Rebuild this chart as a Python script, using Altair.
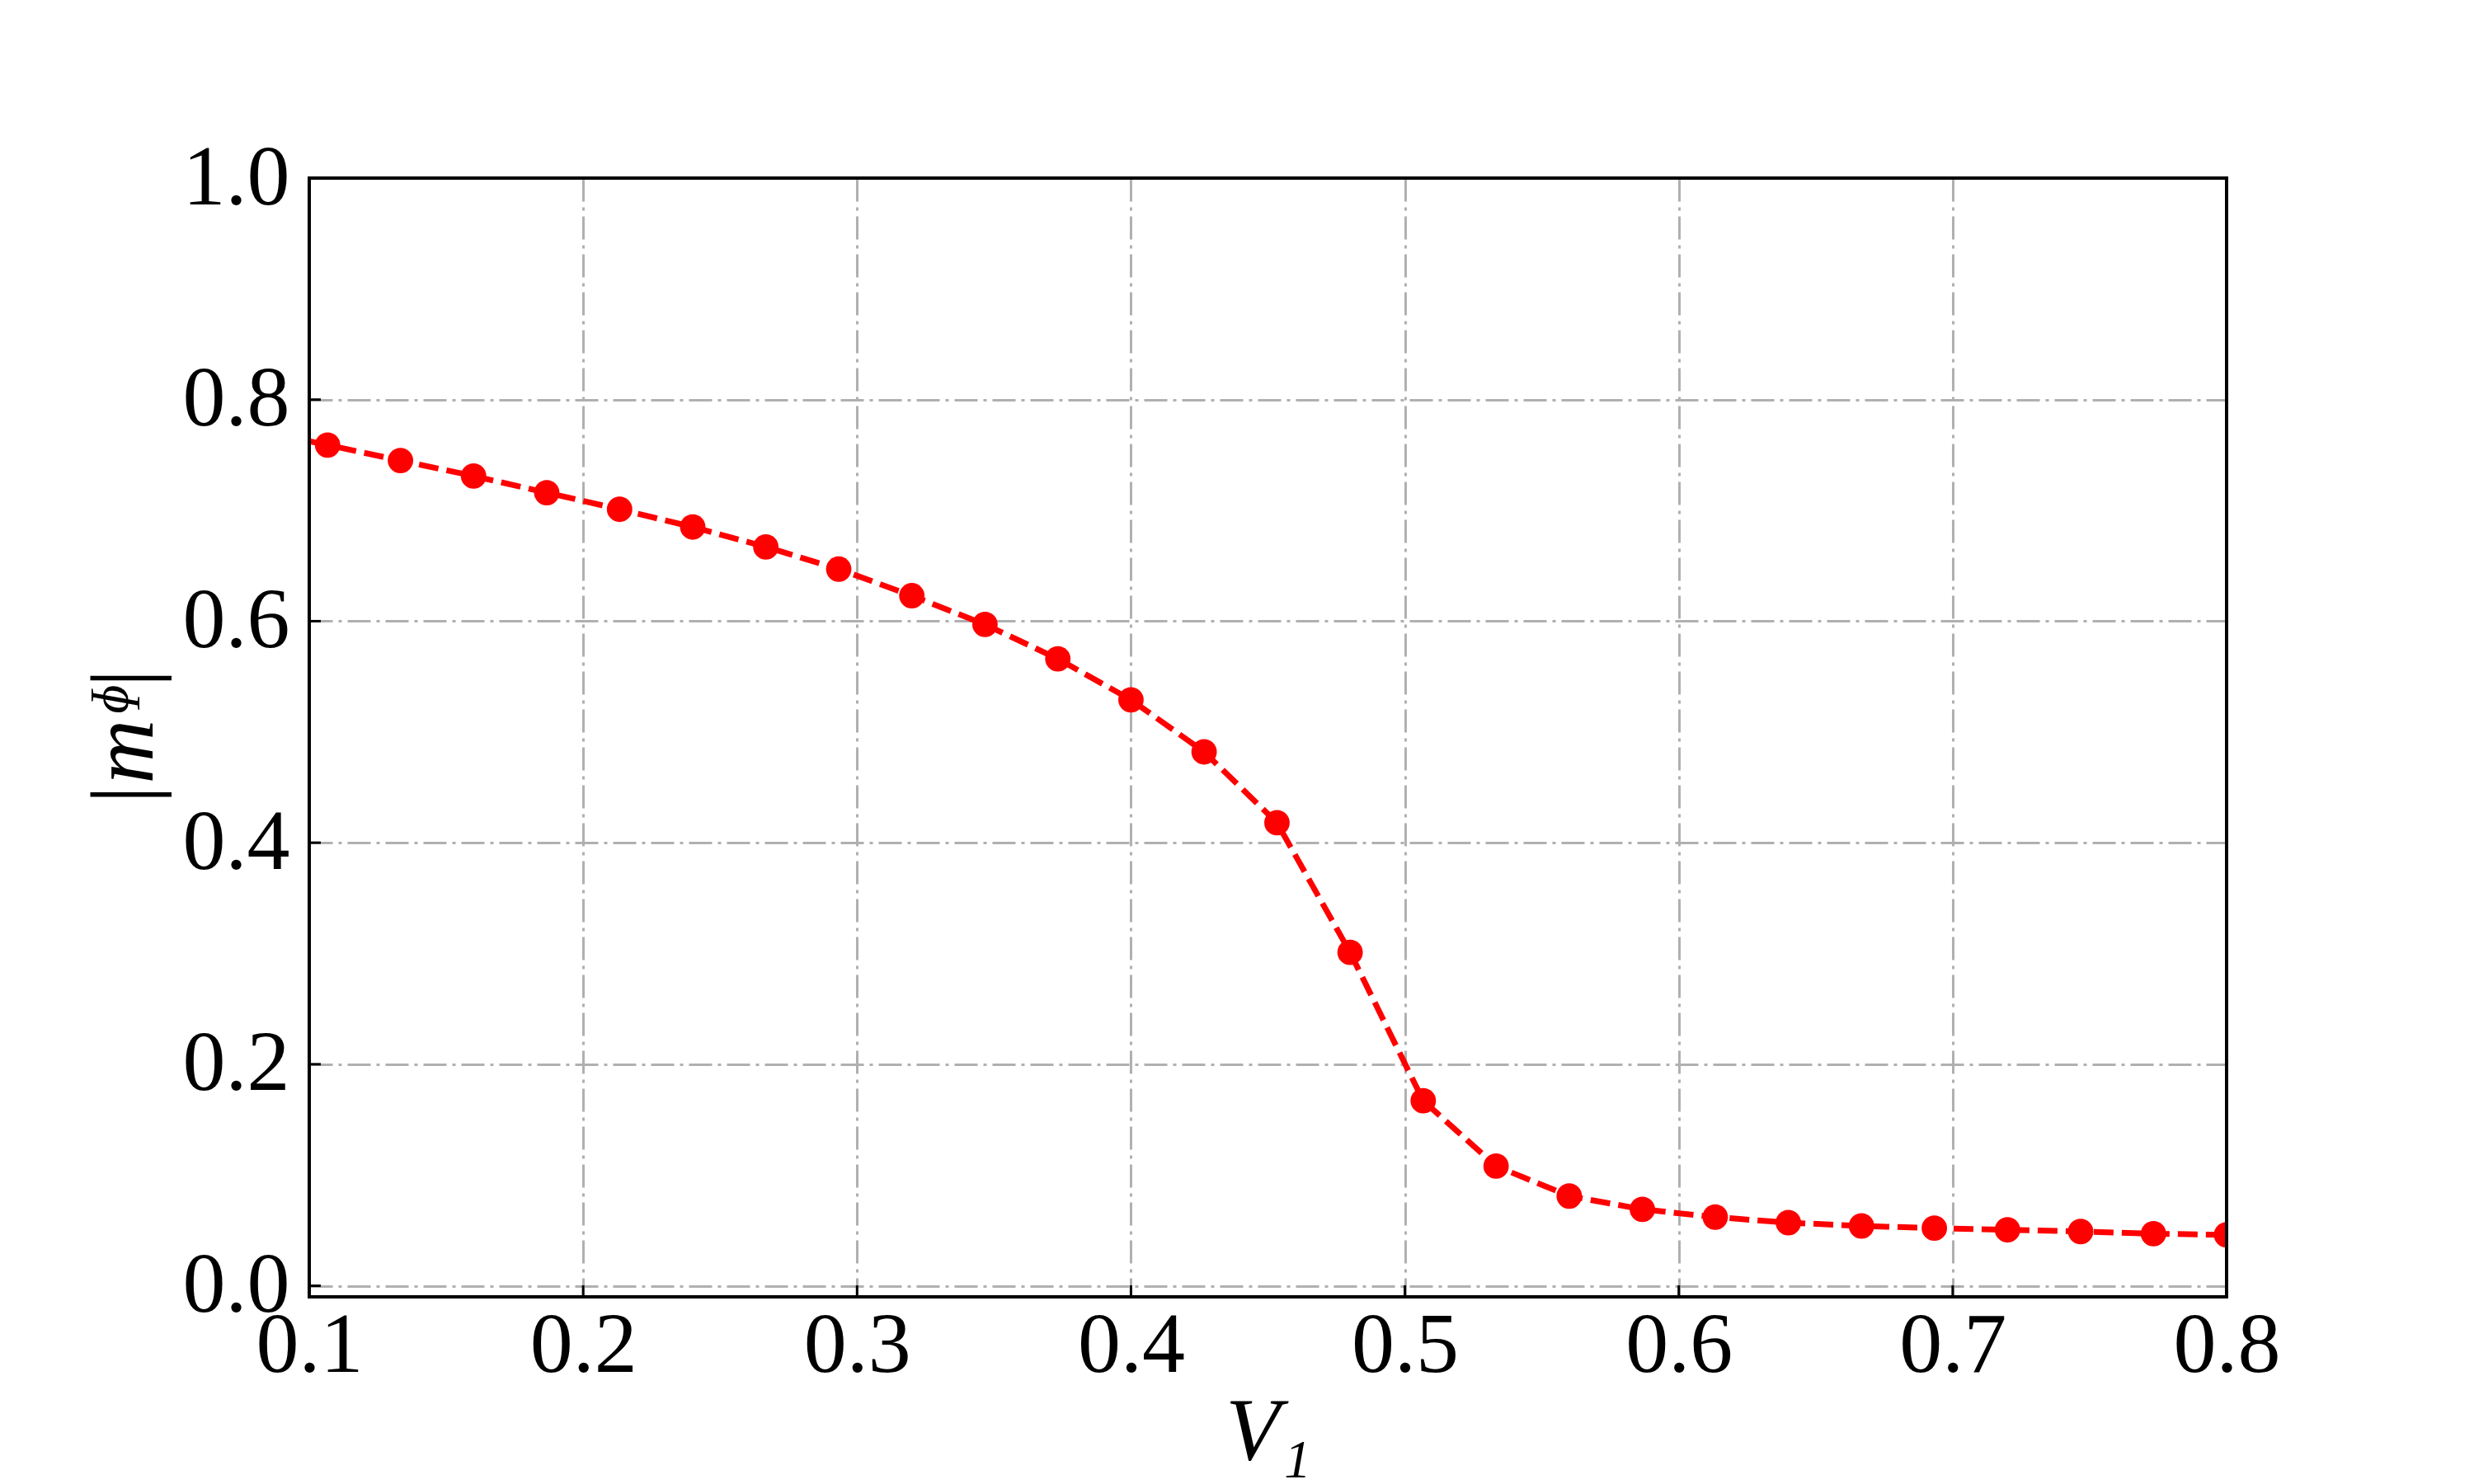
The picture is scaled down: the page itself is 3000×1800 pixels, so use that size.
import altair as alt
import pandas as pd

# data
v1 = [0.0800, 0.1067, 0.1333, 0.1600, 0.1867, 0.2133, 0.2400, 0.2667, 0.2933,
      0.3200, 0.3467, 0.3733, 0.4000, 0.4267, 0.4533, 0.4800, 0.5067, 0.5333,
      0.5600, 0.5867, 0.6133, 0.6400, 0.6667, 0.6933, 0.7200, 0.7467, 0.7733,
      0.8000]
m_phi = [0.773, 0.759, 0.745, 0.731, 0.716, 0.701, 0.685, 0.667, 0.647,
         0.623, 0.597, 0.566, 0.529, 0.482, 0.418, 0.301, 0.167, 0.108,
         0.081, 0.069, 0.062, 0.057, 0.054, 0.052, 0.0505, 0.049, 0.047,
         0.046]
x_ticks = [0.1, 0.2, 0.3, 0.4, 0.5, 0.6, 0.7, 0.8]
y_ticks = [0.0, 0.2, 0.4, 0.6, 0.8, 1.0]

W, H = 2325, 1357
FONT = "Liberation Serif"

df = pd.DataFrame({"v1": v1, "m": m_phi})
xt = pd.DataFrame({"v1": x_ticks})
yt = pd.DataFrame({"m": y_ticks})

xscale = alt.Scale(domain=[0.1, 0.8], nice=False, zero=False)
yscale = alt.Scale(domain=[-0.01, 1.0], nice=False, zero=False)

xaxis = alt.Axis(values=x_ticks, format=".1f", title="V₁", grid=True,
                 gridColor="#b0b0b0", gridWidth=3, gridDash=[28, 7, 4, 7],
                 tickSize=0, domain=False, labelFont=FONT, labelFontSize=104,
                 labelColor="black", labelPadding=8, labelFlush=False,
                 titleFont=FONT, titleFontSize=108, titleFontStyle="italic",
                 titleFontWeight="normal", titleColor="black", titlePadding=0)
yaxis = alt.Axis(values=y_ticks, format=".1f", title="|mᶲ|", grid=True,
                 gridColor="#b0b0b0", gridWidth=3, gridDash=[28, 7, 4, 7],
                 tickSize=0, domain=False, labelFont=FONT, labelFontSize=104,
                 labelColor="black", labelPadding=24, labelFlush=False,
                 titleFont=FONT, titleFontSize=108, titleFontStyle="italic",
                 titleFontWeight="normal", titleColor="black", titlePadding=14)

line = alt.Chart(df).mark_line(color="#ff0000", strokeWidth=7,
                               strokeDash=[24, 10], clip=True).encode(
    x=alt.X("v1:Q", scale=xscale, axis=xaxis),
    y=alt.Y("m:Q", scale=yscale, axis=yaxis),
)
pts = alt.Chart(df).mark_circle(color="#ff0000", size=950, opacity=1,
                                clip=True).encode(
    x=alt.X("v1:Q", scale=xscale),
    y=alt.Y("m:Q", scale=yscale),
)
yticks = alt.Chart(yt).mark_rule(color="black", strokeWidth=3).encode(
    y=alt.Y("m:Q", scale=yscale),
    x=alt.value(0), x2=alt.value(14),
)
xticks = alt.Chart(xt).mark_rule(color="black", strokeWidth=3).encode(
    x=alt.X("v1:Q", scale=xscale),
    y=alt.value(H), y2=alt.value(H - 14),
)
frame = alt.Chart(xt).mark_rect(fill=None, stroke="black", strokeWidth=3.5).encode(
    x=alt.value(0), x2=alt.value(W), y=alt.value(0), y2=alt.value(H),
)

chart = alt.layer(line, pts, yticks, xticks, frame).properties(
    width=W, height=H,
    autosize=alt.AutoSizeParams(type="none"),
    padding={"left": 367, "top": 208, "right": 292, "bottom": 219},
    background="white",
).configure_view(stroke=None)

chart.save("out.html", embed_options={"renderer": "svg", "actions": False})
